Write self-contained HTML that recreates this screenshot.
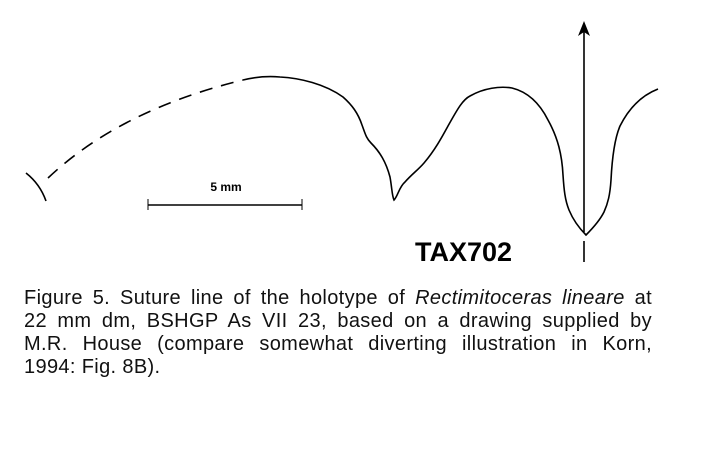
<!DOCTYPE html>
<html><head><meta charset="utf-8"><style>
html,body{margin:0;padding:0;background:#fff;}
#wrap{position:relative;width:703px;height:463px;overflow:hidden;background:#fff;}
svg{position:absolute;left:0;top:0;}
#cap{position:absolute;left:24px;top:287px;width:628px;font-family:"Liberation Sans",Arial,sans-serif;font-size:20px;line-height:23px;color:#111;letter-spacing:0.35px;}
#cap div{text-align:justify;text-align-last:justify;white-space:nowrap;}
#cap div.last{text-align-last:left;}
</style></head><body>
<div id="wrap">
<svg width="703" height="463">
  <path d="M26,173 Q40,184 46,201" fill="none" stroke="#000" stroke-width="1.6"/>
  <path d="M48,178 Q120,110 243,80" fill="none" stroke="#000" stroke-width="1.6" stroke-dasharray="13,9"/>
  <path fill="none" stroke="#000" stroke-width="1.6"
    d="M243,80 C255,77 268,76 280,77 C300,78 325,84 343,97 C352,105 358,113 362,125 C365,133 366,138 371,143 C380,152 386,162 390,177 C392,188 392,196 394,200 C398,196 399,187 405,182 C412,174 418,170 424,163 C435,150 442,137 448,126 C456,112 462,100 470,96 C484,88 500,86 512,88 C528,92 540,104 548,120 C558,138 562,155 563,175 C564,190 565,200 569,210 C574,222 580,229 586,235 C592,229 600,220 604,212 C608,203 610,195 611,180 C612,160 614,140 620,126 C628,110 640,96 658,89"/>
  <line x1="584" y1="232" x2="584" y2="30" stroke="#000" stroke-width="1.6"/>
  <path d="M584,21 L578,36 L584,32 L590,36 Z" fill="#000"/>
  <line x1="584" y1="241" x2="584" y2="262" stroke="#000" stroke-width="1.6"/>
  <line x1="148" y1="205" x2="302" y2="205" stroke="#000" stroke-width="1.6"/>
  <line x1="148" y1="199" x2="148" y2="210" stroke="#000" stroke-width="1"/>
  <line x1="302" y1="199" x2="302" y2="210" stroke="#000" stroke-width="1"/>
  <text x="226" y="191" text-anchor="middle" font-family="Liberation Sans, Arial, sans-serif" font-size="12" font-weight="bold">5 mm</text>
  <text x="415" y="261" font-family="Liberation Sans, Arial, sans-serif" font-size="27" font-weight="bold">TAX702</text>
</svg>
<div id="cap">
<div>Figure 5. Suture line of the holotype of <i>Rectimitoceras lineare</i> at</div>
<div>22 mm dm, BSHGP As VII 23, based on a drawing supplied by</div>
<div>M.R. House (compare somewhat diverting illustration in Korn,</div>
<div class="last">1994: Fig. 8B).</div>
</div>
</div>
</body></html>
